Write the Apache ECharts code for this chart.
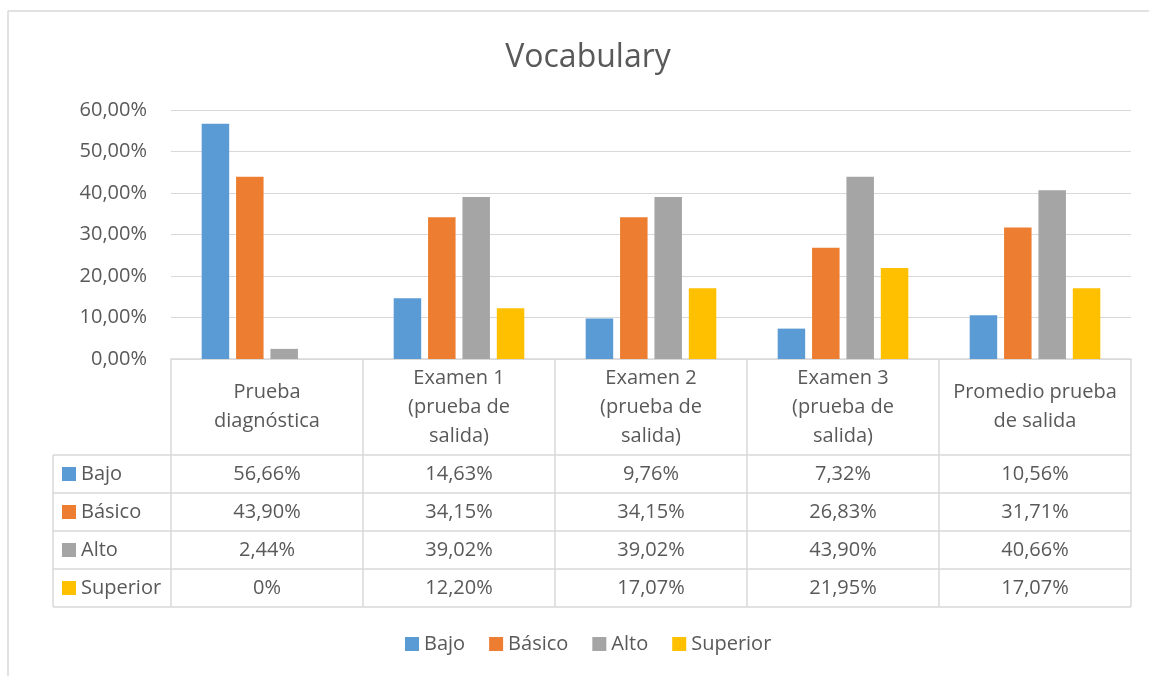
<!DOCTYPE html>
<html>
<head>
<meta charset="utf-8">
<script src="https://cdn.jsdelivr.net/npm/echarts@6/dist/echarts.min.js"></script>
<style>
html,body{margin:0;padding:0;background:#fff;}
#main{width:1149px;height:676px;}
</style>
</head>
<body>
<div id="main"></div>
<script>
const categories = ['Prueba\ndiagnóstica', 'Examen 1\n(prueba de\nsalida)', 'Examen 2\n(prueba de\nsalida)', 'Examen 3\n(prueba de\nsalida)', 'Promedio prueba\nde salida'];
const seriesNames = ['Bajo', 'Básico', 'Alto', 'Superior'];
const bajo = [56.66, 14.63, 9.76, 7.32, 10.56];
const basico = [43.90, 34.15, 34.15, 26.83, 31.71];
const alto = [2.44, 39.02, 39.02, 43.90, 40.66];
const superior = [0, 12.20, 17.07, 21.95, 17.07];
const yTicks = [0, 10, 20, 30, 40, 50, 60];

const colors = ['#5B9BD5', '#ED7D31', '#A5A5A5', '#FFC000'];
const allSeries = [bajo, basico, alto, superior];
const FONT = 'Open Sans';
const TXT = '#595959';
const LINE = '#D9D9D9';

const G = {left: 171, right: 18, top: 110, bottom: 317};
const HEADER_H = 96, ROW_H = 38, LABEL_LEFT = 53;

function fmtAxis(v){ return v.toFixed(2).replace('.', ',') + '%'; }
function fmtCell(v){ return v === 0 ? '0%' : v.toFixed(2).replace('.', ',') + '%'; }

const chart = echarts.init(document.getElementById('main'), null, {renderer: 'canvas'});
chart.setOption({
  backgroundColor: '#fff',
  animation: false,
  textStyle: {fontFamily: FONT},
  title: {
    text: 'Vocabulary', left: 583, top: 37, textAlign: 'center',
    textStyle: {fontFamily: FONT, fontSize: 32, fontWeight: 'normal', color: TXT}
  },
  legend: {
    data: seriesNames, left: 405, top: 634, padding: 0, itemWidth: 14, itemHeight: 14, itemGap: 24,
    icon: 'rect',
    textStyle: {fontFamily: FONT, fontSize: 20, color: TXT}
  },
  grid: {left: G.left, right: G.right, top: G.top, bottom: G.bottom, containLabel: false},
  xAxis: {
    type: 'category', data: categories,
    axisLine: {show: true, lineStyle: {color: LINE, width: 1.5}},
    axisTick: {show: false},
    axisLabel: {show: true, fontFamily: FONT, fontSize: 20, color: TXT, lineHeight: 29,
      verticalAlign: 'middle', margin: HEADER_H / 2, interval: 0}
  },
  yAxis: {
    type: 'value', min: yTicks[0], max: yTicks[yTicks.length-1], interval: yTicks[1]-yTicks[0],
    axisLine: {show: false}, axisTick: {show: false},
    splitLine: {lineStyle: {color: LINE, width: 1}},
    axisLabel: {fontFamily: FONT, fontSize: 20, color: TXT, margin: 24, formatter: fmtAxis}
  },
  series: seriesNames.map((n, i) => ({
    name: n, type: 'bar', data: allSeries[i], barWidth: 27.5, barGap: '25%',
    itemStyle: {color: colors[i]}
  }))
});

// Build data table beneath the plot, aligned to the category axis
const x0 = chart.convertToPixel({xAxisIndex: 0}, 0);
const x1 = chart.convertToPixel({xAxisIndex: 0}, 1);
const band = x1 - x0;
const yZero = chart.convertToPixel({yAxisIndex: 0}, 0);
const gridRight = 1149 - G.right;
const n = categories.length;
const gfx = [];
const ls = {stroke: LINE, lineWidth: 1.5};
const tableBottom = yZero + HEADER_H + ROW_H * seriesNames.length;
for (let r = 0; r <= seriesNames.length; r++) {
  const y = yZero + HEADER_H + ROW_H * r;
  gfx.push({type: 'line', shape: {x1: LABEL_LEFT, y1: y, x2: gridRight, y2: y}, style: ls, silent: true});
}
gfx.push({type: 'line', shape: {x1: LABEL_LEFT, y1: yZero + HEADER_H, x2: LABEL_LEFT, y2: tableBottom}, style: ls});
for (let c = 0; c <= n; c++) {
  const x = x0 - band / 2 + band * c;
  gfx.push({type: 'line', shape: {x1: x, y1: yZero, x2: x, y2: tableBottom}, style: ls});
}
seriesNames.forEach((name, r) => {
  const cy = yZero + HEADER_H + ROW_H * r + ROW_H / 2;
  gfx.push({type: 'rect', shape: {x: 62, y: cy - 7, width: 14, height: 14}, style: {fill: colors[r]}});
  gfx.push({type: 'text', x: 81, y: cy, style: {text: name, font: '20px "Open Sans"', fill: TXT, textAlign: 'left', textVerticalAlign: 'middle'}});
  allSeries[r].forEach((v, c) => {
    const cx = chart.convertToPixel({xAxisIndex: 0}, c);
    gfx.push({type: 'text', x: cx, y: cy, style: {text: fmtCell(v), font: '20px "Open Sans"', fill: TXT, textAlign: 'center', textVerticalAlign: 'middle'}});
  });
});
gfx.push({type: 'line', shape: {x1: 8, y1: 11, x2: 1149, y2: 11}, style: {stroke: LINE, lineWidth: 1.5}});
gfx.push({type: 'line', shape: {x1: 8, y1: 11, x2: 8, y2: 676}, style: {stroke: LINE, lineWidth: 1.5}});
chart.setOption({graphic: {elements: gfx}});
</script>
</body>
</html>
